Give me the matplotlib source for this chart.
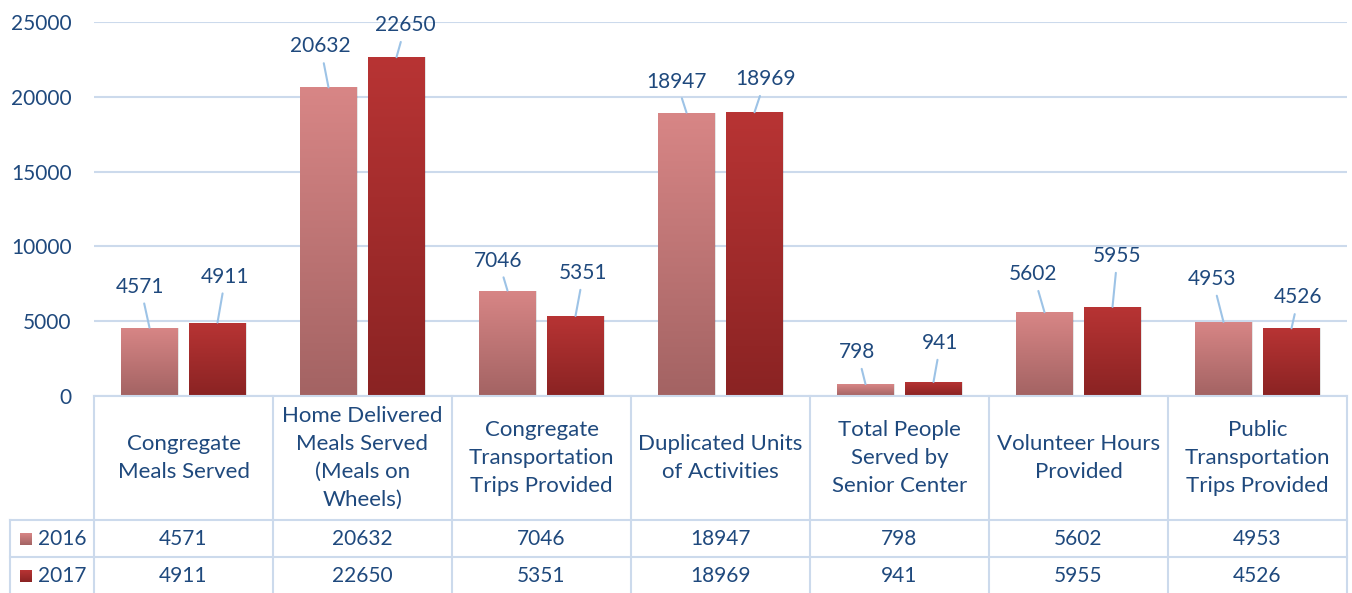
import matplotlib.pyplot as plt
import numpy as np
from matplotlib.colors import LinearSegmentedColormap
from matplotlib.patches import Rectangle

categories = ["Congregate\nMeals Served",
              "Home Delivered\nMeals Served\n(Meals on\nWheels)",
              "Congregate\nTransportation\nTrips Provided",
              "Duplicated Units\nof Activities",
              "Total People\nServed by\nSenior Center",
              "Volunteer Hours\nProvided",
              "Public\nTransportation\nTrips Provided"]
years = ["2016", "2017"]
values_2016 = [4571, 20632, 7046, 18947, 798, 5602, 4953]
values_2017 = [4911, 22650, 5351, 18969, 941, 5955, 4526]
yticks = [0, 5000, 10000, 15000, 20000, 25000]

# label offsets in pixels (dx, dy above bar top to label centre)
offs_2016 = [(-9, 41), (-8, 41), (-9, 30), (-10, 31), (-8, 32), (-11, 38), (-11, 43)]
offs_2017 = [(8, 46), (9, 32), (8, 43), (11, 33), (7, 39), (5, 51), (7, 31)]

TXT = "#1F497D"
GRID = "#CCDAEC"
LEAD = "#9DC3E6"
FS = 15
plt.rcParams['font.family'] = ['Lato', 'DejaVu Sans']

W, H = 1352, 593
fig = plt.figure(figsize=(W / 100, H / 100), dpi=100)
def fx(px): return px / W
def fy(py): return 1 - py / H

ax = fig.add_axes([fx(94), fy(396), fx(1347) - fx(94), fy(22) - fy(396)])
n = len(categories)
x = np.arange(n)
bw = 0.313
off = 0.19

cm16 = LinearSegmentedColormap.from_list("c16", ["#A36363", "#D88686"])
cm17 = LinearSegmentedColormap.from_list("c17", ["#8A2323", "#B83434"])
grad = np.linspace(0, 1, 256).reshape(-1, 1)

bars16 = ax.bar(x - off, values_2016, bw, color="none", zorder=3)
bars17 = ax.bar(x + off, values_2017, bw, color="none", zorder=3)

for bars, cm in ((bars16, cm16), (bars17, cm17)):
    for b in bars:
        x0, y0 = b.get_x(), b.get_y()
        w, h = b.get_width(), b.get_height()
        sh = Rectangle((x0 + 0.008, y0), w, h, transform=ax.transData,
                       facecolor="#000000", alpha=0.10, zorder=2, lw=0)
        ax.add_patch(sh)
        im = ax.imshow(grad, cmap=cm, origin="lower", aspect="auto",
                       extent=[x0, x0 + w, y0, y0 + h], zorder=3)
        im.set_clip_path(b)

ax.set_xlim(-0.5, n - 0.5)
ax.set_ylim(0, 25000)
ax.set_yticks(yticks)
ax.set_yticklabels([str(v) for v in yticks], fontsize=FS, color=TXT)
ax.tick_params(axis='y', length=0, pad=16)
ax.set_xticks([])
ax.grid(axis='y', color=GRID, lw=1.5, zorder=0)
ax.set_axisbelow(True)
for s in ax.spines.values():
    s.set_visible(False)

for bars, vals, offs in ((bars16, values_2016, offs_2016), (bars17, values_2017, offs_2017)):
    for b, v, (dx, dy) in zip(bars, vals, offs):
        cx = b.get_x() + b.get_width() / 2
        ax.annotate(str(v), xy=(cx, v), xytext=(dx * 0.72, dy * 0.72),
                    textcoords="offset points", ha="center", va="center",
                    fontsize=FS, color=TXT, zorder=5,
                    arrowprops=dict(arrowstyle="-", color=LEAD, lw=1.5,
                                    shrinkA=3, shrinkB=0))

# data table
tax = fig.add_axes([fx(94), fy(593), fx(1347) - fx(94), fy(396) - fy(593)])
tax.axis("off")
px2x = n / (1347 - 94)
left_x = -0.5 - (94 - 10) * px2x
kw = dict(color=GRID, lw=1.5, clip_on=False)
tax.plot([-0.5, n - 0.5], [396, 396], **kw)
tax.plot([left_x, n - 0.5], [520, 520], **kw)
tax.plot([left_x, n - 0.5], [557, 557], **kw)
tax.plot([left_x, left_x], [520, 600], **kw)
for i in range(n + 1):
    tax.plot([i - 0.5, i - 0.5], [396, 600], **kw)

for i, c in enumerate(categories):
    tax.text(i, 458, c, ha="center", va="center", fontsize=16, color=TXT,
             linespacing=1.5, clip_on=False)
    tax.text(i, 539, str(values_2016[i]), ha="center", va="center",
             fontsize=FS, color=TXT, clip_on=False)
    tax.text(i, 576, str(values_2017[i]), ha="center", va="center",
             fontsize=FS, color=TXT, clip_on=False)

for yy, yr, cm in ((539, years[0], cm16), (576, years[1], cm17)):
    sx0 = -0.5 - (94 - 20) * px2x
    sw = 12 * px2x
    im = tax.imshow(grad, cmap=cm, origin="lower", aspect="auto",
                    extent=[sx0, sx0 + sw, yy + 6, yy - 6], zorder=3)
    im.set_clip_on(False)
    tax.text(-0.5 - (94 - 38) * px2x, yy, yr, ha="left", va="center",
             fontsize=FS, color=TXT, clip_on=False)
tax.set_xlim(-0.5, n - 0.5)
tax.set_ylim(593, 396)

fig.savefig("out.png", dpi=100)
